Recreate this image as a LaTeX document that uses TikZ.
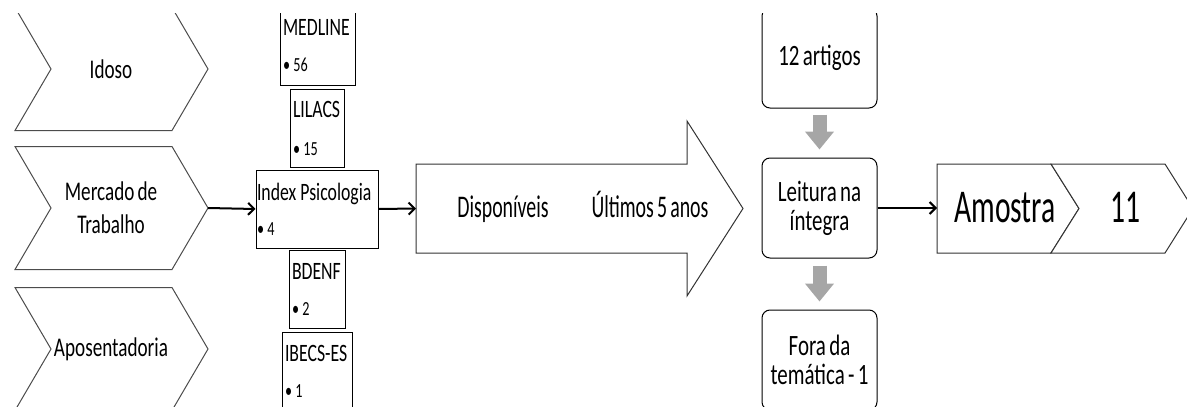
\documentclass[tikz,border=0pt]{standalone}
\usepackage{fontspec}
\setmainfont{Carlito}[FakeStretch=0.71, WordSpace=0.7]
\newfontfamily\condfont{Carlito}[FakeStretch=0.63, WordSpace=0.7]
\usetikzlibrary{arrows.meta, calc, positioning}

\begin{document}
\begin{tikzpicture}[x=1pt, y=-1pt, >={Straight Barb[length=6pt,width=12pt]},
  chev/.style={draw=black!70, line width=1pt, fill=white},
  chevtext/.style={align=center, font=\fontsize{27}{33}\selectfont},
  dbbox/.style={draw, line width=1pt, fill=white, inner xsep=3pt, inner ysep=2pt, align=left, minimum height=78pt, font=\fontsize{25}{26}\selectfont},
  rbox/.style={draw, line width=1pt, rounded corners=8pt, minimum width=115pt, minimum height=100pt, align=center, font=\fontsize{29.5}{29}\selectfont},
  flow/.style={->, line width=2pt},
  down/.style={line width=14pt, draw=black!35, -{Triangle[width=28pt,length=18pt]}}]
\useasboundingbox (0,0) rectangle (1187,407);
\begin{scope}
\clip (0,13) rectangle (1187,407);
% Search terms
\draw[chev] (15,7.5) -- (172,7.5) -- (208,69) -- (172,130.5) -- (15,130.5) -- (51,69) -- cycle;
\draw[chev] (15,146.5) -- (172,146.5) -- (208,208) -- (172,269.5) -- (15,269.5) -- (51,208) -- cycle;
\draw[chev] (15,287.5) -- (172,287.5) -- (208,349) -- (172,410.5) -- (15,410.5) -- (51,349) -- cycle;
\node[chevtext] (idoso) at (111,69) {Idoso};
\node[chevtext] (mercado) at (111,208) {Mercado de\\Trabalho};
\node[chevtext] (apos) at (111,349) {Aposentadoria};
\coordinate (mercadotip) at (208,208);

% Databases
\node[dbbox, text width=69pt] (medline) at (317.5,46) {MEDLINE\\[10pt]{\fontsize{20}{20}\selectfont\textbullet\,56}};
\node[dbbox, text width=48pt] (lilacs) at (317,128) {LILACS\\[12pt]{\fontsize{20}{20}\selectfont\textbullet\,15}};
\node[dbbox, text width=120pt, inner xsep=1pt] (index) at (317,209) {Index\hspace{4pt}Psicologia\\[9pt]{\fontsize{20}{20}\selectfont\textbullet\,4}};
\node[dbbox, text width=50pt] (bdenf) at (317,289.5) {BDENF\\[10pt]{\fontsize{20}{20}\selectfont\textbullet\,2}};
\node[dbbox, text width=64pt] (ibecs) at (317,371) {IBECS-ES\\[10pt]{\fontsize{20}{20}\selectfont\textbullet\,1}};

% Filters
\draw[chev, draw=black!80] (416,164) -- (687,164) -- (687,121) -- (743,208.5) -- (687,296) -- (687,253) -- (416,253) -- cycle;
\coordinate (filtertail) at (416,208.5);
\node[anchor=base, font=\condfont\fontsize{31.5}{32}\selectfont] (disp) at (503,217) {Disponíveis};
\node[anchor=base, font=\condfont\fontsize{31.5}{32}\selectfont] (ultimos) at (650,217) {Últimos 5 anos};

% Selection
\node[rbox] (artigos) at (819.5,58) {12 artigos};
\node[rbox] (leitura) at (819.5,208) {Leitura na\\íntegra};
\node[rbox] (fora) at (819.5,360) {Fora da\\temática - 1};

% Sample
\draw[chev, draw=black!80] (937,164) -- (1051,164) -- (1079,208.5) -- (1051,253) -- (937,253) -- cycle;
\draw[chev, draw=black!80] (1051,164) -- (1165,164) -- (1193,208.5) -- (1165,253) -- (1051,253) -- (1079,208.5) -- cycle;
\coordinate (amostrain) at (937,208);
\node[anchor=base, font=\condfont\fontsize{47}{48}\selectfont] (amostra) at (1005,222) {Amostra};
\node[anchor=base, font=\condfont\fontsize{47}{48}\selectfont] (total) at (1125,222) {11};

% Arrows
\draw[flow] (mercadotip) -- (index.west);
\draw[flow] (index.east) -- (filtertail);
\draw[flow] (leitura.east) -- (amostrain);
\draw[down] ($(artigos.south)+(0,6)$) -- ($(leitura.north)+(0,-8)$);
\draw[down] ($(leitura.south)+(0,7)$) -- ($(fora.north)+(0,-8)$);
\end{scope}
\end{tikzpicture}
\end{document}
